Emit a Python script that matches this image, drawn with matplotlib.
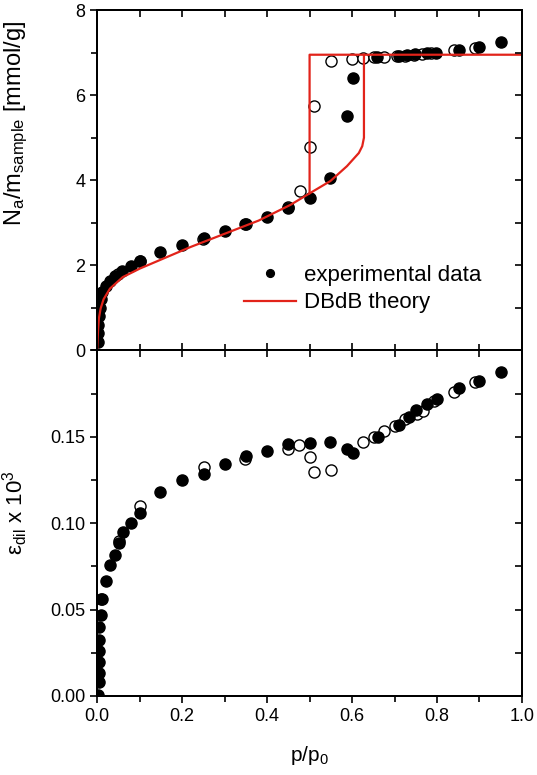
import numpy as np
import matplotlib
matplotlib.use('Agg')
import matplotlib.pyplot as plt
from matplotlib.ticker import MultipleLocator

plt.rcParams['font.family'] = ['Liberation Sans', 'DejaVu Sans']
plt.rcParams['mathtext.fontset'] = 'custom'
plt.rcParams['mathtext.rm'] = 'Liberation Sans'
plt.rcParams['mathtext.it'] = 'Liberation Sans'

# 上图：吸附量（实心=吸附，空心=脱附）
p_ads_top = [0.001, 0.002, 0.003, 0.004, 0.006, 0.008, 0.011, 0.02, 0.031, 0.043, 0.059, 0.08, 0.10,
             0.149, 0.20, 0.251, 0.30, 0.349, 0.40, 0.45, 0.502, 0.547, 0.587, 0.602, 0.659,
             0.71, 0.729, 0.749, 0.776, 0.798, 0.851, 0.90, 0.951]
n_ads_top = [0.2, 0.4, 0.6, 0.8, 1.0, 1.2, 1.38, 1.51, 1.63, 1.74, 1.87, 1.98, 2.09,
             2.30, 2.47, 2.64, 2.80, 2.96, 3.14, 3.35, 3.57, 4.04, 5.52, 6.41, 6.89,
             6.92, 6.95, 6.97, 6.98, 7.00, 7.05, 7.12, 7.26]
p_des_top = [0.05, 0.10, 0.25, 0.35, 0.45, 0.477, 0.50, 0.51, 0.551, 0.60, 0.626, 0.651, 0.676,
             0.706, 0.725, 0.745, 0.765, 0.785, 0.839, 0.89]
n_des_top = [1.80, 2.09, 2.62, 2.98, 3.38, 3.74, 4.79, 5.74, 6.80, 6.85, 6.88, 6.89, 6.89,
             6.91, 6.93, 6.95, 6.96, 6.98, 7.05, 7.10]

# DBdB 理论曲线
p_theory = [0.0, 0.001, 0.002, 0.004, 0.008, 0.015, 0.03, 0.06, 0.10, 0.14, 0.22, 0.30,
            0.38, 0.455, 0.50, 0.50, 1.0]
n_theory = [0.0, 0.25, 0.46, 0.75, 0.98, 1.20, 1.45, 1.72, 1.92, 2.09, 2.43, 2.74,
            3.05, 3.42, 3.69, 6.95, 6.95]
p_meta = [0.50, 0.549, 0.588, 0.616, 0.624, 0.628, 0.628]
n_meta = [3.69, 3.98, 4.33, 4.64, 4.80, 5.00, 6.95]

# 下图：形变
p_ads_bot = [0.001, 0.004, 0.004, 0.004, 0.005, 0.005, 0.005, 0.008, 0.009, 0.012, 0.02, 0.03,
             0.041, 0.051, 0.061, 0.08, 0.10, 0.149, 0.20, 0.251, 0.30, 0.351, 0.40, 0.449,
             0.50, 0.547, 0.587, 0.602, 0.66, 0.71, 0.733, 0.751, 0.776, 0.80, 0.851, 0.90, 0.951]
e_ads_bot = [0.0006, 0.0083, 0.0132, 0.0199, 0.0258, 0.0326, 0.0397, 0.0471, 0.0562, 0.0562,
             0.0665, 0.0756, 0.0814, 0.0884, 0.0950, 0.1000, 0.1056, 0.1178, 0.1250, 0.1285,
             0.1343, 0.1391, 0.1420, 0.1456, 0.1463, 0.1469, 0.1430, 0.1407, 0.1498, 0.1570,
             0.1614, 0.1653, 0.1688, 0.1721, 0.1779, 0.1824, 0.1872]
p_des_bot = [0.051, 0.10, 0.251, 0.347, 0.449, 0.474, 0.50, 0.51, 0.551, 0.626, 0.651, 0.676,
             0.702, 0.725, 0.754, 0.767, 0.792, 0.839, 0.89]
e_des_bot = [0.0897, 0.1101, 0.1324, 0.1372, 0.1428, 0.1450, 0.1382, 0.1298, 0.1310, 0.1469,
             0.1498, 0.1531, 0.1562, 0.1605, 0.1634, 0.1647, 0.1705, 0.1760, 0.1818]

x_ticks = [0.0, 0.2, 0.4, 0.6, 0.8, 1.0]
x_ticklabels = ['0.0', '0.2', '0.4', '0.6', '0.8', '1.0']
y2_ticks = [0.0, 0.05, 0.10, 0.15]
y2_ticklabels = ['0.00', '0.05', '0.10', '0.15']

fig = plt.figure(figsize=(5.37, 7.75), dpi=100)
ax1 = fig.add_axes([0.181, 0.548, 0.791, 0.439])
ax2 = fig.add_axes([0.181, 0.102, 0.791, 0.446])

ms = 8
red = '#e2231a'


def mirror(ax, ylim, ymaj, ymin):
    # 右侧和顶部的向内刻度
    axr = ax.twinx()
    axr.set_ylim(*ylim)
    axr.yaxis.set_major_locator(MultipleLocator(ymaj))
    axr.yaxis.set_minor_locator(MultipleLocator(ymin))
    axr.tick_params(which='both', direction='in', labelright=False, width=1.2, length=5)
    axt = ax.twiny()
    axt.set_xlim(0, 1)
    axt.xaxis.set_major_locator(MultipleLocator(0.2))
    axt.xaxis.set_minor_locator(MultipleLocator(0.1))
    axt.tick_params(which='both', direction='in', labeltop=False, width=1.2, length=5)
    for a in (axr, axt):
        for s in a.spines.values():
            s.set_linewidth(1.4)


for ax in (ax1, ax2):
    for s in ax.spines.values():
        s.set_linewidth(1.4)
    ax.set_xlim(0, 1.0)
    ax.set_xticks(x_ticks)
    ax.xaxis.set_minor_locator(MultipleLocator(0.1))
    ax.tick_params(which='both', width=1.2, labelsize=13, direction='out')
    ax.tick_params(which='major', length=5)
    ax.tick_params(which='minor', length=4)

# 上图
ax1.plot(p_des_top, n_des_top, 'o', mfc='white', mec='black', mew=1.0, ms=ms)
ax1.plot(p_ads_top, n_ads_top, 'o', color='black', ms=ms, label='experimental data')
ax1.plot(p_theory, n_theory, color=red, lw=1.6, label='DBdB theory')
ax1.plot(p_meta, n_meta, color=red, lw=1.6)
ax1.set_ylim(0, 8)
ax1.yaxis.set_major_locator(MultipleLocator(2))
ax1.yaxis.set_minor_locator(MultipleLocator(1))
ax1.tick_params(axis='x', which='both', direction='in', labelbottom=False)
ax1.set_ylabel(r'N$_\mathrm{a}$/m$_\mathrm{sample}$ [mmol/g]', fontsize=17)
ax1.yaxis.set_label_coords(-0.158, 0.668)
ax1.legend(loc='center left', bbox_to_anchor=(0.325, 0.18), frameon=False, fontsize=16,
           handlelength=2.35, handletextpad=0.35, labelspacing=0.3, markerscale=0.7,
           borderaxespad=0)
mirror(ax1, (0, 8), 2, 1)

# 下图
ax2.plot(p_des_bot, e_des_bot, 'o', mfc='white', mec='black', mew=1.0, ms=ms)
ax2.plot(p_ads_bot, e_ads_bot, 'o', color='black', ms=ms)
ax2.set_ylim(0, 0.2)
ax2.set_yticks(y2_ticks)
ax2.set_yticklabels(y2_ticklabels)
ax2.yaxis.set_minor_locator(MultipleLocator(0.025))
ax2.set_xticklabels(x_ticklabels)
ax2.set_xlabel(r'p/p$_\mathrm{0}$', fontsize=15, labelpad=14)
ax2.set_ylabel(r'ε$_\mathrm{dil}$ x 10$^\mathrm{3}$', fontsize=16)
ax2.yaxis.set_label_coords(-0.158, 0.53)
mirror(ax2, (0, 0.2), 0.05, 0.025)

fig.savefig('out.png', dpi=100)
